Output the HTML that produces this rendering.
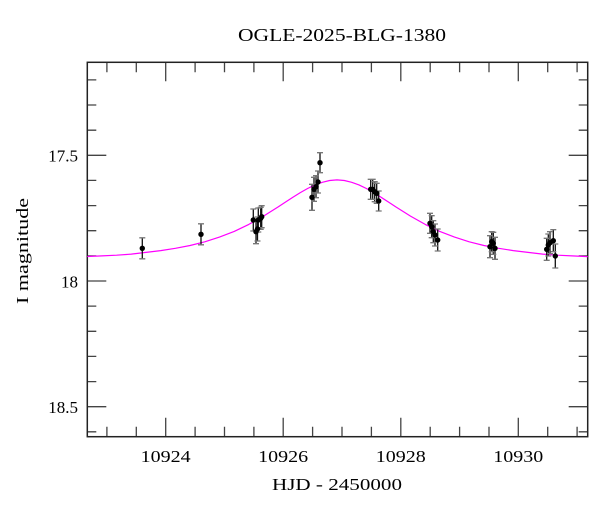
<!DOCTYPE html>
<html><head><meta charset="utf-8"><style>
html,body{margin:0;padding:0;background:#fff;}
svg{display:block;}
text{font-family:"Liberation Serif",serif;fill:#000;}
</style></head><body>
<svg width="600" height="512" viewBox="0 0 600 512" xmlns="http://www.w3.org/2000/svg">
<rect x="0" y="0" width="600" height="512" fill="#fff"/>
<text x="342" y="41" font-size="18" text-anchor="middle" textLength="208" lengthAdjust="spacingAndGlyphs">OGLE-2025-BLG-1380</text>
<g stroke="#444" stroke-width="1.3" fill="none">
<path d="M106.9,62.3v10 M136.3,62.3v10 M195.1,62.3v10 M224.5,62.3v10 M253.9,62.3v10 M312.6,62.3v10 M342,62.3v10 M371.4,62.3v10 M430.2,62.3v10 M459.6,62.3v10 M489,62.3v10 M547.7,62.3v10 M577.1,62.3v10
M106.9,436.7v-10 M136.3,436.7v-10 M195.1,436.7v-10 M224.5,436.7v-10 M253.9,436.7v-10 M312.6,436.7v-10 M342,436.7v-10 M371.4,436.7v-10 M430.2,436.7v-10 M459.6,436.7v-10 M489,436.7v-10 M547.7,436.7v-10 M577.1,436.7v-10"/>
<path d="M165.7,62.3v19 M283.2,62.3v19 M400.8,62.3v19 M518.3,62.3v19
M165.7,436.7v-19 M283.2,436.7v-19 M400.8,436.7v-19 M518.3,436.7v-19"/>
<path d="M87.3,79.9h9 M87.3,105h9 M87.3,130.2h9 M87.3,180.4h9 M87.3,205.6h9 M87.3,230.7h9 M87.3,255.9h9 M87.3,306.1h9 M87.3,331.3h9 M87.3,356.4h9 M87.3,381.6h9 M87.3,431.8h9
M587.7,79.9h-9 M587.7,105h-9 M587.7,130.2h-9 M587.7,180.4h-9 M587.7,205.6h-9 M587.7,230.7h-9 M587.7,255.9h-9 M587.7,306.1h-9 M587.7,331.3h-9 M587.7,356.4h-9 M587.7,381.6h-9 M587.7,431.8h-9"/>
<path d="M87.3,155.3h19 M87.3,281h19 M87.3,406.7h19 M587.7,155.3h-19 M587.7,281h-19 M587.7,406.7h-19"/>
</g>
<rect x="87.3" y="62.3" width="500.4" height="374.4" fill="none" stroke="#222" stroke-width="1.5"/>
<g font-size="17">
<text x="78" y="161.5" text-anchor="end">17.5</text>
<text x="78" y="287.5" text-anchor="end">18</text>
<text x="78" y="413" text-anchor="end">18.5</text>
<text x="165.7" y="462" text-anchor="middle" textLength="50" lengthAdjust="spacingAndGlyphs">10924</text>
<text x="283.2" y="462" text-anchor="middle" textLength="50" lengthAdjust="spacingAndGlyphs">10926</text>
<text x="400.8" y="462" text-anchor="middle" textLength="50" lengthAdjust="spacingAndGlyphs">10928</text>
<text x="518.3" y="462" text-anchor="middle" textLength="50" lengthAdjust="spacingAndGlyphs">10930</text>
<text x="337" y="490" text-anchor="middle" textLength="130" lengthAdjust="spacingAndGlyphs">HJD - 2450000</text>
<text transform="translate(28,251) rotate(-90)" text-anchor="middle" textLength="106" lengthAdjust="spacingAndGlyphs">I magnitude</text>
</g>
<polyline fill="none" stroke="#ff00ff" stroke-width="1.2" stroke-linejoin="round" points="87.3,256.5 101.9,255.9 116.6,255.2 131.3,254.1 146,252.4 160.7,250.6 175.4,248.3 190.1,245.5 204.8,241.8 219.5,237.1 234.2,231.4 248.8,224.4 263.5,216.1 278.2,206.9 285.6,202 292.9,197.3 300.3,192.6 307.6,188.5 315,184.9 322.3,182.3 329.65,180.5 337,179.9 344.35,180.5 351.7,182.3 359,184.9 366.4,188.5 373.7,192.6 381.1,197.3 388.4,202 395.8,206.9 410.5,216.1 425.2,224.4 439.8,231.4 454.5,237.1 469.2,241.8 483.9,245.5 498.6,248.3 513.3,250.6 528,252.4 542.7,254.1 557.4,255.2 572.1,255.9 587.7,256.6"/>
<g stroke="#111" stroke-width="1.3">
<path d="M142.3,237.8v21 M201,223.8v21 M253.3,209v22 M256,219.7v24 M257.5,217v24 M258.3,208v24 M260.7,207.3v22 M261.7,205.7v22 M312,184.3v26 M314,177.3v24 M316,175.7v22 M318,171v22 M320,152.7v20 M370.7,179.3v20 M372.7,179.3v20 M374.7,181.7v20 M376.7,183.3v20 M378.7,191v20 M430,213.3v20 M431.7,215.7v22 M433.3,220.7v22 M435,224v22 M437.7,229v22 M490,235.7v22 M491.7,231.7v20 M493.3,232.3v22 M495,237.3v22 M546.7,238.3v22 M548.3,234v22 M550,231.7v22 M553.3,229.7v22 M555.3,244v24"/>
</g>
<g stroke="#777" stroke-width="1.3">
<path d="M139.3,237.8h6 M139.3,258.8h6 M198,223.8h6 M198,244.8h6 M250.3,209h6 M250.3,231h6 M253,219.7h6 M253,243.7h6 M254.5,217h6 M254.5,241h6 M255.3,208h6 M255.3,232h6 M257.7,207.3h6 M257.7,229.3h6 M258.7,205.7h6 M258.7,227.7h6 M309,184.3h6 M309,210.3h6 M311,177.3h6 M311,201.3h6 M313,175.7h6 M313,197.7h6 M315,171h6 M315,193h6 M317,152.7h6 M317,172.7h6 M367.7,179.3h6 M367.7,199.3h6 M369.7,179.3h6 M369.7,199.3h6 M371.7,181.7h6 M371.7,201.7h6 M373.7,183.3h6 M373.7,203.3h6 M375.7,191h6 M375.7,211h6 M427,213.3h6 M427,233.3h6 M428.7,215.7h6 M428.7,237.7h6 M430.3,220.7h6 M430.3,242.7h6 M432,224h6 M432,246h6 M434.7,229h6 M434.7,251h6 M487,235.7h6 M487,257.7h6 M488.7,231.7h6 M488.7,251.7h6 M490.3,232.3h6 M490.3,254.3h6 M492,237.3h6 M492,259.3h6 M543.7,238.3h6 M543.7,260.3h6 M545.3,234h6 M545.3,256h6 M547,231.7h6 M547,253.7h6 M550.3,229.7h6 M550.3,251.7h6 M552.3,244h6 M552.3,268h6"/>
</g>
<g fill="#000">
<circle cx="142.3" cy="248.3" r="2.7"/><circle cx="201" cy="234.3" r="2.7"/>
<circle cx="253.3" cy="220" r="2.7"/><circle cx="256" cy="231.7" r="2.7"/><circle cx="257.5" cy="229" r="2.7"/><circle cx="258.3" cy="220" r="2.7"/><circle cx="260.7" cy="218.3" r="2.7"/><circle cx="261.7" cy="216.7" r="2.7"/>
<circle cx="312" cy="197.3" r="2.7"/><circle cx="314" cy="189.3" r="2.7"/><circle cx="316" cy="186.7" r="2.7"/><circle cx="318" cy="182" r="2.7"/><circle cx="320" cy="162.7" r="2.7"/>
<circle cx="370.7" cy="189.3" r="2.7"/><circle cx="372.7" cy="189.3" r="2.7"/><circle cx="374.7" cy="191.7" r="2.7"/><circle cx="376.7" cy="193.3" r="2.7"/><circle cx="378.7" cy="201" r="2.7"/>
<circle cx="430" cy="223.3" r="2.7"/><circle cx="431.7" cy="226.7" r="2.7"/><circle cx="433.3" cy="231.7" r="2.7"/><circle cx="435" cy="235" r="2.7"/><circle cx="437.7" cy="240" r="2.7"/>
<circle cx="490" cy="246.7" r="2.7"/><circle cx="491.7" cy="241.7" r="2.7"/><circle cx="493.3" cy="243.3" r="2.7"/><circle cx="495" cy="248.3" r="2.7"/>
<circle cx="546.7" cy="249.3" r="2.7"/><circle cx="548.3" cy="245" r="2.7"/><circle cx="550" cy="242.7" r="2.7"/><circle cx="553.3" cy="240.7" r="2.7"/><circle cx="555.3" cy="256" r="2.7"/>
</g>
</svg>
</body></html>
